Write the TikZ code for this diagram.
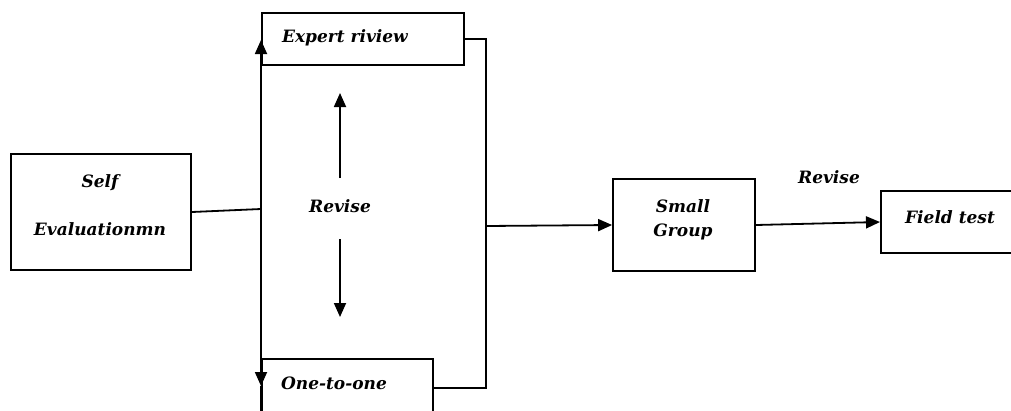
\documentclass[tikz,border=0pt]{standalone}
\usepackage{fontspec}
\setmainfont{DejaVu Serif}
\usetikzlibrary{arrows.meta}
\begin{document}
\begin{tikzpicture}[x=1pt,y=-1pt,
  every node/.style={font=\fontsize{17}{20}\selectfont\bfseries\itshape},
  box/.style={draw, line width=1.8pt, inner sep=0pt},
  conn/.style={line width=1.8pt},
  arr/.style={line width=1.8pt,-{Triangle[length=14pt,width=12pt]}},
  lbl/.style={inner sep=0pt}]
\useasboundingbox (0,0) rectangle (1011,410);
\clip (0,0) rectangle (1011,410);
% boxes
\node[box, minimum width=180, minimum height=116] (se) at (101,212) {};
\node[lbl] (selft) at (100,183) {Self};
\node[lbl] (evalt) at (100,229) {Evaluationmn};
\node[box, anchor=north west, minimum width=202, minimum height=52] (ex) at (261,12) {};
\node[lbl] (ext) at (345,38) {Expert riview};
\node[box, anchor=north west, minimum width=171, minimum height=58] (oo) at (261,358) {};
\node[lbl] (oot) at (334,383) {One-to-one};
\node[box, minimum width=142, minimum height=92] (sg) at (684,225) {};
\node[lbl] (sgt1) at (683,206) {Small};
\node[lbl] (sgt2) at (683,232) {Group};
\node[box, anchor=north west, minimum width=160, minimum height=62] (ft) at (880,190) {};
\node[lbl] (ftt) at (950,217) {Field test};
\node[lbl] (rev1) at (340,206) {Revise};
\node[lbl] (rev2) at (829,177) {Revise};
% coordinates
\coordinate (vtop) at (261,40);
\coordinate (vmid) at (261,209);
\coordinate (vdn) at (261,386);
\coordinate (vbot) at (261,412);
\coordinate (rm) at (486,226);
\coordinate (uptip) at (340,93);
\coordinate (upbase) at (340,178);
\coordinate (dnbase) at (340,239);
\coordinate (dntip) at (340,317);
% connectors
\draw[conn] (se.east) -- (vmid);
\draw[arr] (vmid) -- (vtop);
\draw[arr] (vmid) -- (vdn);
\draw[conn] (vdn) -- (vbot);
\draw[conn] (ex.east) -| (rm) |- (oo.east);
\draw[arr] (upbase) -- (uptip);
\draw[arr] (dnbase) -- (dntip);
\draw[arr] (rm) -- (sg.west);
\draw[arr] (sg.east) -- (ft.west |- 0,222);
\end{tikzpicture}
\end{document}
